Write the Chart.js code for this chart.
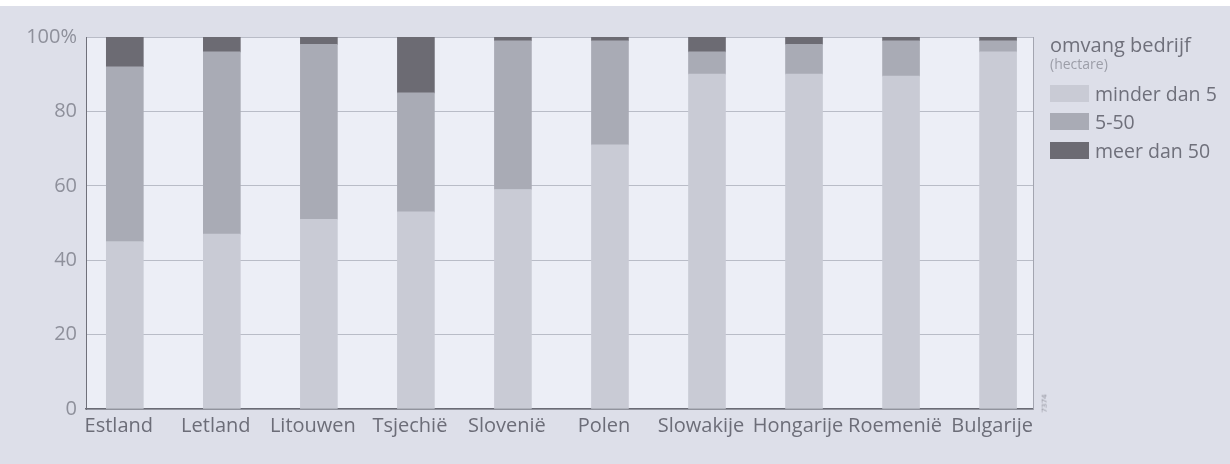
<!DOCTYPE html>
<html>
<head>
<meta charset="utf-8">
<script src="https://cdn.jsdelivr.net/npm/chart.js@4.4.1/dist/chart.umd.min.js"></script>
<style>
  html, body { margin: 0; padding: 0; }
  body { width: 1230px; height: 464px; background: #dddfe9; position: relative; overflow: hidden; font-family: "Open Sans", "Noto Sans", sans-serif; }
  #topstrip { position: absolute; left: 0; top: 0; width: 1230px; height: 6px; background: #ffffff; }
  #wrap { position: absolute; left: 0; top: 0; width: 1230px; height: 464px; }
  #legend { position: absolute; left: 1050px; top: 34px; color: #6f707b; }
  #legend .t1 { font-size: 20px; line-height: 22px; }
  #legend .t2 { font-size: 14px; line-height: 15px; color: #9c9ea8; margin-bottom: 8px; }
  #legend .row { display: flex; align-items: center; height: 28.5px; font-size: 19.5px; }
  #legend .box { width: 39px; height: 17px; margin-right: 6px; }
  #code { position: absolute; left: 1034px; top: 398px; font-size: 8px; color: #8f909a; transform: rotate(-90deg); transform-origin: center; }
</style>
</head>
<body>
<div id="topstrip"></div>
<div id="wrap"><canvas id="c" width="1230" height="464"></canvas></div>
<div id="legend"></div>
<div id="code">7374</div>
<script>
const categories = ["Estland", "Letland", "Litouwen", "Tsjechië", "Slovenië", "Polen", "Slowakije", "Hongarije", "Roemenië", "Bulgarije"];
const lessThan5 = [45, 47, 51, 53, 59, 71, 90, 90, 89.5, 96];
const from5to50 = [47, 49, 47, 32, 40, 28, 6, 8, 9.5, 3];
const moreThan50 = [8, 4, 2, 15, 1, 1, 4, 2, 1, 1];
const yTicks = [0, 20, 40, 60, 80, 100];
const seriesLabels = ["minder dan 5", "5-50", "meer dan 50"];
const seriesColors = ["#c9cbd5", "#a9abb5", "#6c6b73"];
const legendTitle = "omvang bedrijf";
const legendSubtitle = "(hectare)";

const toPoints = arr => arr.map((v, i) => ({ x: i, y: v }));

const bgPlugin = {
  id: 'bg',
  beforeDraw(chart) {
    const { ctx, chartArea: a } = chart;
    ctx.save();
    ctx.fillStyle = '#eceef6';
    ctx.fillRect(a.left, a.top, a.right - a.left, a.bottom - a.top);
    ctx.restore();
  },
  afterDraw(chart) {
    const { ctx, chartArea: a } = chart;
    ctx.save();
    ctx.strokeStyle = '#a3a5b0';
    ctx.lineWidth = 1;
    ctx.beginPath();
    ctx.moveTo(a.right + 0.5, a.top);
    ctx.lineTo(a.right + 0.5, a.bottom);
    ctx.stroke();
    ctx.restore();
  }
};

new Chart(document.getElementById('c'), {
  type: 'bar',
  data: {
    datasets: [
      { label: seriesLabels[0], data: toPoints(lessThan5), backgroundColor: seriesColors[0] },
      { label: seriesLabels[1], data: toPoints(from5to50), backgroundColor: seriesColors[1] },
      { label: seriesLabels[2], data: toPoints(moreThan50), backgroundColor: seriesColors[2] }
    ]
  },
  options: {
    responsive: false,
    animation: false,
    events: [],
    layout: { padding: { left: 0, right: 197, top: 37, bottom: 0 } },
    datasets: { bar: { barThickness: 37, borderWidth: 0 } },
    plugins: { legend: { display: false }, tooltip: { enabled: false }, title: { display: false } },
    scales: {
      x: {
        type: 'linear',
        stacked: true,
        offset: false,
        bounds: 'data',
        min: -0.4,
        max: 9.36,
        afterBuildTicks: s => { s.ticks = categories.map((_, i) => ({ value: i })); },
        afterFit: s => { s.height = 55; },
        grid: { display: false, drawTicks: false, offset: false },
        border: { display: true, color: '#6a6b75', width: 1.5 },
        ticks: {
          autoSkip: false, maxRotation: 0, minRotation: 0, padding: 5,
          labelOffset: -6,
          color: '#6c6d78',
          font: { family: '"Open Sans", "Noto Sans", sans-serif', size: 20 },
          callback: v => categories[v] ?? ''
        }
      },
      y: {
        stacked: true,
        min: 0,
        max: 100,
        afterBuildTicks: s => { s.ticks = yTicks.map(v => ({ value: v })); },
        afterFit: s => { s.width = 86; },
        grid: { color: '#b9bcc7', lineWidth: 1, drawTicks: false },
        border: { display: true, color: '#6f707a', width: 1 },
        ticks: {
          padding: 9,
          color: '#8e909b',
          font: { family: '"Open Sans", "Noto Sans", sans-serif', size: 20 },
          callback: v => v === 100 ? '100%' : String(v)
        }
      }
    }
  },
  plugins: [bgPlugin]
});

const lg = document.getElementById('legend');
const t1 = document.createElement('div'); t1.className = 't1'; t1.textContent = legendTitle; lg.appendChild(t1);
const t2 = document.createElement('div'); t2.className = 't2'; t2.textContent = legendSubtitle; lg.appendChild(t2);
seriesLabels.forEach((lab, i) => {
  const row = document.createElement('div'); row.className = 'row';
  const b = document.createElement('div'); b.className = 'box'; b.style.background = seriesColors[i];
  const s = document.createElement('span'); s.textContent = lab;
  row.appendChild(b); row.appendChild(s); lg.appendChild(row);
});
</script>
</body>
</html>
